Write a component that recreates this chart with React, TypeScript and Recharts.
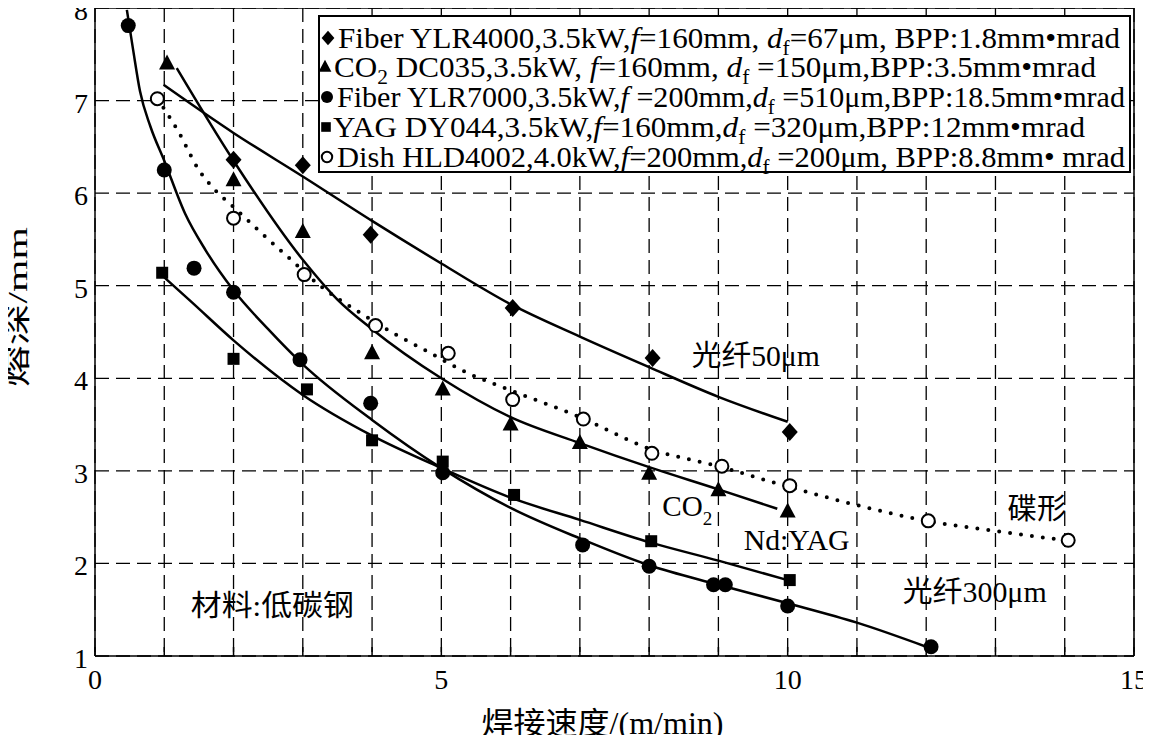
import React from "react";
import {
  ComposedChart,
  XAxis,
  YAxis,
  CartesianGrid,
  Line,
  Scatter,
  ReferenceLine,
  ReferenceDot,
  Legend,
} from "recharts";

const FONT = "'Liberation Serif', 'Times New Roman', Times, 'DejaVu Serif', serif, 'Noto Sans CJK SC'";

const xTicks = [0, 1, 2, 3, 4, 5, 6, 7, 8, 9, 10, 11, 12, 13, 14, 15];
const yTicks = [1, 2, 3, 4, 5, 6, 7, 8];

// measured points
const fiber50Pts = [
  { x: 2, y: 6.36 }, { x: 3, y: 6.3 }, { x: 3.98, y: 5.55 },
  { x: 6.03, y: 4.76 }, { x: 8.05, y: 4.22 }, { x: 10.03, y: 3.42 },
];
const co2Pts = [
  { x: 1.04, y: 7.4 }, { x: 2, y: 6.14 }, { x: 3, y: 5.58 }, { x: 4, y: 4.27 },
  { x: 5.02, y: 3.88 }, { x: 6, y: 3.5 }, { x: 7, y: 3.3 }, { x: 8, y: 2.97 },
  { x: 9, y: 2.79 }, { x: 10, y: 2.56 },
];
const fiber300Pts = [
  { x: 0.48, y: 7.81 }, { x: 1, y: 6.25 }, { x: 1.43, y: 5.19 }, { x: 2, y: 4.93 },
  { x: 2.96, y: 4.2 }, { x: 3.98, y: 3.73 }, { x: 5.02, y: 2.98 }, { x: 7.04, y: 2.2 },
  { x: 8, y: 1.97 }, { x: 8.93, y: 1.77 }, { x: 9.1, y: 1.77 }, { x: 10, y: 1.54 },
  { x: 12.07, y: 1.1 },
];
const yagPts = [
  { x: 0.97, y: 5.14 }, { x: 2, y: 4.21 }, { x: 3.06, y: 3.88 }, { x: 4, y: 3.33 },
  { x: 5.02, y: 3.1 }, { x: 6.05, y: 2.74 }, { x: 8.03, y: 2.24 }, { x: 10.03, y: 1.82 },
];
const dishPts = [
  { x: 0.9, y: 7.02 }, { x: 2, y: 5.73 }, { x: 3.02, y: 5.12 }, { x: 4.05, y: 4.57 },
  { x: 5.1, y: 4.27 }, { x: 6.03, y: 3.77 }, { x: 7.05, y: 3.56 }, { x: 8.04, y: 3.19 },
  { x: 9.05, y: 3.05 }, { x: 10.03, y: 2.84 }, { x: 12.03, y: 2.46 }, { x: 14.05, y: 2.25 },
];

// fitted curves
const fiber50Fit = [
  { x: 0.99, y: 7.17 }, { x: 2, y: 6.65 }, { x: 3, y: 6.18 }, { x: 4, y: 5.7 },
  { x: 5, y: 5.24 }, { x: 6, y: 4.8 }, { x: 7, y: 4.45 }, { x: 8, y: 4.12 },
  { x: 9, y: 3.8 }, { x: 10, y: 3.53 },
];
const co2Fit = [
  { x: 1.18, y: 7.35 }, { x: 2, y: 6.35 }, { x: 3, y: 5.28 }, { x: 3.5, y: 4.85 },
  { x: 4, y: 4.53 }, { x: 5, y: 4.0 }, { x: 6, y: 3.58 }, { x: 7, y: 3.3 },
  { x: 8, y: 3.04 }, { x: 9, y: 2.8 }, { x: 9.85, y: 2.59 },
];
const fiber300Fit = [
  { x: 0.46, y: 7.98 }, { x: 0.55, y: 7.55 }, { x: 0.65, y: 7.1 }, { x: 0.8, y: 6.72 },
  { x: 1, y: 6.35 }, { x: 1.3, y: 5.78 }, { x: 1.6, y: 5.38 }, { x: 2, y: 4.95 },
  { x: 2.5, y: 4.53 }, { x: 3, y: 4.15 }, { x: 4, y: 3.55 }, { x: 5, y: 3.03 },
  { x: 6, y: 2.6 }, { x: 7, y: 2.27 }, { x: 8, y: 1.98 }, { x: 9, y: 1.77 },
  { x: 10, y: 1.57 }, { x: 11, y: 1.36 }, { x: 12, y: 1.1 },
];
const yagFit = [
  { x: 1, y: 5.09 }, { x: 1.4, y: 4.82 }, { x: 2, y: 4.41 }, { x: 3, y: 3.82 },
  { x: 4, y: 3.38 }, { x: 5, y: 3.03 }, { x: 6, y: 2.71 }, { x: 7, y: 2.47 },
  { x: 8, y: 2.23 }, { x: 9, y: 2.03 }, { x: 10, y: 1.82 },
];
const dishFit = [
  { x: 0.9, y: 7.02 }, { x: 1.2, y: 6.67 }, { x: 1.5, y: 6.25 }, { x: 1.75, y: 6.02 },
  { x: 2, y: 5.85 }, { x: 2.4, y: 5.57 }, { x: 2.8, y: 5.3 }, { x: 3.25, y: 5.0 },
  { x: 3.8, y: 4.72 }, { x: 4.3, y: 4.49 }, { x: 4.75, y: 4.31 }, { x: 5.4, y: 4.05 },
  { x: 6, y: 3.87 }, { x: 7, y: 3.58 }, { x: 8, y: 3.24 }, { x: 9, y: 3.05 },
  { x: 10, y: 2.83 }, { x: 11, y: 2.63 }, { x: 12, y: 2.46 }, { x: 13, y: 2.35 },
  { x: 14, y: 2.25 },
];

type Part = [string, "n" | "i" | "s"];

const legendRows: { marker: string; parts: Part[] }[] = [
  { marker: "diamond", parts: [["Fiber YLR4000,3.5kW,", "n"], ["f", "i"], ["=160mm, ", "n"], ["d", "i"], ["f", "s"], ["=67μm, BPP:1.8mm•mrad", "n"]] },
  { marker: "triangle", parts: [["CO", "n"], ["2", "s"], [" DC035,3.5kW, ", "n"], ["f", "i"], ["=160mm, ", "n"], ["d", "i"], ["f", "s"], [" =150μm,BPP:3.5mm•mrad", "n"]] },
  { marker: "circle", parts: [["Fiber YLR7000,3.5kW,", "n"], ["f", "i"], [" =200mm,", "n"], ["d", "i"], ["f", "s"], [" =510μm,BPP:18.5mm•mrad", "n"]] },
  { marker: "square", parts: [["YAG DY044,3.5kW,", "n"], ["f", "i"], ["=160mm,", "n"], ["d", "i"], ["f", "s"], [" =320μm,BPP:12mm•mrad", "n"]] },
  { marker: "open", parts: [["Dish HLD4002,4.0kW,", "n"], ["f", "i"], ["=200mm,", "n"], ["d", "i"], ["f", "s"], [" =200μm, BPP:8.8mm• mrad", "n"]] },
];
const legendTextX = [18, 14, 17, 13, 17];
const legendTextW = [782, 762, 788, 752, 788];
const legendMarkX = [8, 5, 7, 6, 7];
const legendRowY = [21, 50, 80, 110, 140];

const notes: { x: number; y: number; w: number; parts: Part[] }[] = [
  { x: 9.54, y: 4.23, w: 128, parts: [["光纤50μm", "n"]] },
  { x: 8.55, y: 2.61, w: 50, parts: [["CO", "n"], ["2", "s"]] },
  { x: 10.13, y: 2.25, w: 106, parts: [["Nd:YAG", "n"]] },
  { x: 13.6, y: 2.58, w: 59, parts: [["碟形", "n"]] },
  { x: 12.7, y: 1.69, w: 144, parts: [["光纤300μm", "n"]] },
  { x: 2.56, y: 1.53, w: 163, parts: [["材料:低碳钢", "n"]] },
];

function Mark({ kind, cx, cy, s = 1 }: { kind: string; cx: number; cy: number; s?: number }) {
  if (kind === "diamond")
    return <path d={`M${cx},${cy - 9 * s}L${cx + 8 * s},${cy}L${cx},${cy + 9 * s}L${cx - 8 * s},${cy}Z`} fill="#000" />;
  if (kind === "triangle")
    return <path d={`M${cx},${cy - 9 * s}L${cx + 8 * s},${cy + 6 * s}L${cx - 8 * s},${cy + 6 * s}Z`} fill="#000" />;
  if (kind === "circle") return <circle cx={cx} cy={cy} r={7.5 * s} fill="#000" />;
  if (kind === "square")
    return <rect x={cx - 6 * s} y={cy - 6 * s} width={12 * s} height={12 * s} fill="#000" />;
  return <circle cx={cx} cy={cy} r={6.5 * s} fill="#fff" stroke="#000" strokeWidth={2} />;
}

function renderParts(parts: Part[], subSize: number, subDy: number) {
  let down = false;
  return parts.map(([t, k], i) => {
    let dy = 0;
    if (k === "s" && !down) { dy = subDy; down = true; }
    else if (k !== "s" && down) { dy = -subDy; down = false; }
    return (
      <tspan key={i} dy={dy || undefined} fontStyle={k === "i" ? "italic" : undefined} fontSize={k === "s" ? subSize : undefined}>
        {t}
      </tspan>
    );
  });
}

const textStyle = { fontFamily: FONT, whiteSpace: "pre" as const };

function LegendBox() {
  return (
    <div style={{ width: 813, height: 158, border: "2px solid #000", boxSizing: "border-box", background: "#fff" }}>
      <svg width={809} height={154} style={{ display: "block", overflow: "visible" }}>
        {legendRows.map((r, i) => (
          <g key={i}>
            <Mark kind={r.marker} cx={legendMarkX[i]} cy={legendRowY[i]} s={0.8} />
            <text
              x={legendTextX[i]}
              y={legendRowY[i] + 9.5}
              fontSize={29}
              textLength={legendTextW[i]}
              lengthAdjust="spacingAndGlyphs"
              style={textStyle}
            >
              {renderParts(r.parts, 20, 7)}
            </text>
          </g>
        ))}
      </svg>
    </div>
  );
}

const noteLabel = (n: { w: number; parts: Part[] }) => (props: any) => {
  const { x, y } = props.viewBox;
  return (
    <text
      x={x}
      y={y + 9.5}
      textAnchor="middle"
      fontSize={29}
      textLength={n.w}
      lengthAdjust="spacingAndGlyphs"
      style={textStyle}
    >
      {renderParts(n.parts, 19, 9)}
    </text>
  );
};

const XTick = (p: any) => {
  const v = p.payload.value;
  return (
    <g>
      <line x1={p.x} x2={p.x} y1={p.y} y2={p.y - 9} stroke="#000" strokeWidth={1.5} />
      {v % 5 === 0 && (
        <text x={p.x} y={p.y + 33} textAnchor="middle" fontSize={28} fill="#000" style={textStyle}>
          {v}
        </text>
      )}
    </g>
  );
};

const YTick = (p: any) => (
  <text x={p.x} y={p.y + 12} textAnchor="end" fontSize={28} fill="#000" style={textStyle}>
    {p.payload.value}
  </text>
);

const xTitle = (p: any) => {
  const { x, y, width } = p.viewBox;
  return (
    <text x={x + width / 2 - 12} y={y + 78} textAnchor="middle" fontSize={31}
      textLength={242} lengthAdjust="spacingAndGlyphs" style={textStyle}>
      焊接速度/(m/min)
    </text>
  );
};

const yTitle = () => (
  <text x={27} y={307} transform="rotate(-90 27 307)" textAnchor="middle" fontSize={28}
    textLength={160} lengthAdjust="spacingAndGlyphs" style={textStyle}>
    熔深/mm
  </text>
);

const lineProps = { type: "monotone" as const, dataKey: "y", stroke: "#000", strokeWidth: 2.5, dot: false, isAnimationActive: false, activeDot: false };

export default function App() {
  return (
    <div style={{ margin: -8 }}>
      <ComposedChart width={1151} height={743} margin={{ top: 8, right: 17, bottom: 0, left: 0 }}>
        <CartesianGrid stroke="#000" strokeWidth={1.3} strokeDasharray="14 7" />
        <XAxis
          dataKey="x"
          type="number"
          domain={[0, 15]}
          ticks={xTicks}
          interval={0}
          height={87}
          tickSize={0}
          tickMargin={0}
          tickLine={false}
          tick={XTick}
          axisLine={{ stroke: "#000", strokeWidth: 1.5 }}
          label={{ content: xTitle }}
          allowDataOverflow
        />
        <YAxis
          dataKey="y"
          type="number"
          domain={[1, 8]}
          ticks={yTicks}
          interval={0}
          width={95}
          tickSize={0}
          tickMargin={7}
          tickLine={false}
          tick={YTick}
          axisLine={{ stroke: "#000", strokeWidth: 1.5 }}
          label={{ content: yTitle }}
          allowDataOverflow
        />
        <ReferenceLine y={8} stroke="#000" strokeWidth={1.5} />
        <ReferenceLine x={15} stroke="#000" strokeWidth={1.5} />

        <Line data={fiber50Fit} {...lineProps} />
        <Line data={co2Fit} {...lineProps} />
        <Line data={fiber300Fit} {...lineProps} />
        <Line data={yagFit} {...lineProps} />
        <Line data={dishFit} {...lineProps} strokeWidth={4} strokeDasharray="0 11" strokeLinecap="round" />

        <Scatter data={fiber50Pts} dataKey="y" isAnimationActive={false} shape={(p: any) => <Mark kind="diamond" cx={p.cx} cy={p.cy} />} />
        <Scatter data={co2Pts} dataKey="y" isAnimationActive={false} shape={(p: any) => <Mark kind="triangle" cx={p.cx} cy={p.cy} />} />
        <Scatter data={fiber300Pts} dataKey="y" isAnimationActive={false} shape={(p: any) => <Mark kind="circle" cx={p.cx} cy={p.cy} />} />
        <Scatter data={yagPts} dataKey="y" isAnimationActive={false} shape={(p: any) => <Mark kind="square" cx={p.cx} cy={p.cy} />} />
        <Scatter data={dishPts} dataKey="y" isAnimationActive={false} shape={(p: any) => <Mark kind="open" cx={p.cx} cy={p.cy} />} />

        {notes.map((n, i) => (
          <ReferenceDot key={i} x={n.x} y={n.y} r={0} fill="none" stroke="none" label={noteLabel(n)} />
        ))}

        <Legend
          layout="vertical"
          align="center"
          verticalAlign="middle"
          wrapperStyle={{ left: 318, top: 15, width: 813, height: 158 }}
          content={() => <LegendBox />}
        />
      </ComposedChart>
    </div>
  );
}
